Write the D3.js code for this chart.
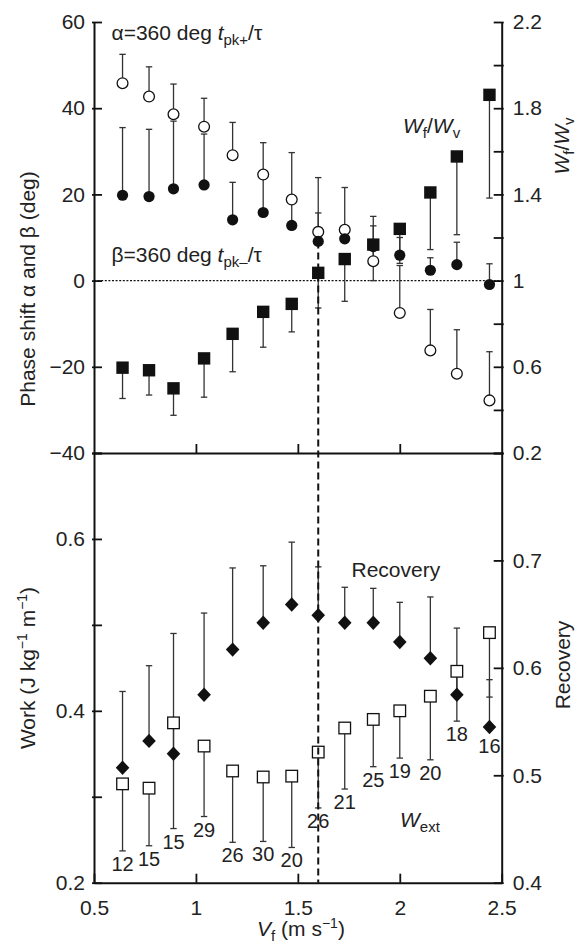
<!DOCTYPE html>
<html><head><meta charset="utf-8">
<script src="https://cdn.jsdelivr.net/npm/d3@7"></script>
<style>
body{margin:0;background:#fff}
text{font-family:"Liberation Sans",Arial,Helvetica,sans-serif;fill:#222}
</style>
</head><body><svg id="c" width="584" height="947"></svg>
<script>
// ---------- data ----------
const speeds     = [0.64, 0.77, 0.89, 1.04, 1.18, 1.33, 1.47, 1.60, 1.73, 1.87, 2.00, 2.15, 2.28, 2.44];
const alpha      = [45.8, 42.7, 38.6, 35.7, 29.1, 24.6, 18.8, 11.3, 11.8, 4.5, -7.5, -16.2, -21.6, -27.8];
const alphaHi    = [52.5, 49.6, 45.6, 42.3, 36.7, 32.0, 29.7, 23.9, 21.6, 12.7, 3.5, -6.7, -11.4, -16.5];
const beta       = [19.8, 19.5, 21.3, 22.2, 14.1, 15.8, 12.8, 9.1, 9.7, 7.9, 5.9, 2.4, 3.7, -0.9];
const betaHi     = [35.5, 35.1, 37.0, 34.0, 22.8, 24.0, 18.0, 15.7, 11.5, 14.9, 10.0, 5.3, 8.9, 3.9];
const wfwv       = [0.596, 0.584, 0.500, 0.639, 0.753, 0.855, 0.892, 1.036, 1.100, 1.167, 1.240, 1.409, 1.576, 1.862];
const wfwvLo     = [0.453, 0.469, 0.375, 0.459, 0.577, 0.691, 0.762, 0.873, 0.904, 1.000, 1.080, 1.144, 1.213, 1.383];
const workExt    = [0.315, 0.310, 0.386, 0.359, 0.330, 0.323, 0.324, 0.352, 0.380, 0.390, 0.400, 0.417, 0.446, 0.491];
const workExtLo  = [0.237, 0.243, 0.263, 0.277, 0.247, 0.248, 0.241, 0.287, 0.309, 0.335, 0.345, 0.343, 0.388, 0.416];
const recovery   = [0.507, 0.532, 0.520, 0.575, 0.617, 0.642, 0.659, 0.649, 0.642, 0.642, 0.624, 0.609, 0.575, 0.545];
const recoveryHi = [0.578, 0.602, 0.632, 0.651, 0.693, 0.695, 0.717, 0.694, 0.675, 0.674, 0.661, 0.666, 0.637, 0.589];
const nLabels    = ["12","15","15","29","26","30","20","26","21","25","19","20","18","16"];
const markerSpeed = 1.6;

const phaseTicks = [-40, -20, 0, 20, 40, 60];
const ratioTicks = [0.2, 0.4, 0.6, 0.8, 1.0, 1.2, 1.4, 1.6, 1.8, 2.0, 2.2];
const workTicks  = [0.2, 0.3, 0.4, 0.5, 0.6, 0.7];
const recTicks   = [0.4, 0.5, 0.6, 0.7, 0.8];
const speedTicks = [0.5, 1, 1.5, 2, 2.5];
const innerSpeedTicks = [1, 1.5, 2];

// ---------- scales ----------
const L = 94, R = 501.7, T = 22, M = 453, B = 882.7;
const x     = d3.scaleLinear().domain([0.5, 2.5]).range([L, R]);
const yPh   = d3.scaleLinear().domain([-40, 60]).range([M, T]);
const yRat  = d3.scaleLinear().domain([0.2, 2.2]).range([M, T]);
const yWork = d3.scaleLinear().domain([0.2, 0.7]).range([B, M]);
const yRec  = d3.scaleLinear().domain([0.4, 0.8]).range([B, M]);

const svg = d3.select("#c");
const FS = 21;
const INK = "#111";

function styleAxis(g, outX, outY) {
  g.select(".domain").attr("stroke", INK).attr("stroke-width", 2);
  g.selectAll(".tick line").attr("stroke", INK).attr("stroke-width", 1.8);
  if (outX !== undefined) g.selectAll(".tick line").attr("x1", outX);
  if (outY !== undefined) g.selectAll(".tick line").attr("y1", outY);
  g.selectAll("text").attr("font-size", FS).attr("font-family", '"Liberation Sans",Arial,sans-serif').attr("fill", "#222");
}
const minus = v => (v < 0 ? "\u2212" + Math.abs(v) : String(v));

// left axes
svg.append("g").attr("transform", `translate(${L},0)`)
  .call(d3.axisLeft(yPh).tickValues(phaseTicks).tickFormat(minus).tickSizeInner(-8).tickSizeOuter(0).tickPadding(9))
  .call(g => styleAxis(g, -2));
svg.append("g").attr("transform", `translate(${L},0)`)
  .call(d3.axisLeft(yWork).tickValues(workTicks)
    .tickFormat(d => ([0.2, 0.4, 0.6].some(v => Math.abs(v - d) < 1e-6) ? d.toFixed(1) : ""))
    .tickSizeInner(-8).tickSizeOuter(0).tickPadding(9))
  .call(g => styleAxis(g, -2));
// right axes
svg.append("g").attr("transform", `translate(${R},0)`)
  .call(d3.axisRight(yRat).tickValues(ratioTicks)
    .tickFormat(d => { const k = Math.round(d * 10); return k % 4 === 2 ? (k === 10 ? "1" : d.toFixed(1)) : ""; })
    .tickSizeInner(-8).tickSizeOuter(0).tickPadding(11))
  .call(g => styleAxis(g, 2));
svg.append("g").attr("transform", `translate(${R},0)`)
  .call(d3.axisRight(yRec).tickValues(recTicks)
    .tickFormat(d => (d > 0.75 ? "" : d.toFixed(1)))
    .tickSizeInner(-8).tickSizeOuter(0).tickPadding(11))
  .call(g => styleAxis(g, 2));
// x axes
svg.append("g").attr("transform", `translate(0,${M})`)
  .call(d3.axisBottom(x).tickValues(innerSpeedTicks).tickFormat("").tickSizeInner(-9).tickSizeOuter(0))
  .call(g => styleAxis(g));
svg.append("g").attr("transform", `translate(0,${B})`)
  .call(d3.axisBottom(x).tickValues(speedTicks).tickFormat(d => String(d)).tickSizeInner(-9).tickSizeOuter(0).tickPadding(17))
  .call(g => styleAxis(g));

// zero line (dotted)
svg.append("line").attr("x1", x(0.5)).attr("x2", x(2.5)).attr("y1", yPh(0)).attr("y2", yPh(0))
  .attr("stroke", INK).attr("stroke-width", 1.4).attr("stroke-dasharray", "2,1.6");

// ---------- error bars ----------
const EB = "#333", CAP = 3.2;
function errBars(vals, ends, yS) {
  const g = svg.append("g").attr("stroke", EB).attr("stroke-width", 1.3);
  speeds.forEach((s, i) => {
    g.append("line").attr("x1", x(s)).attr("x2", x(s)).attr("y1", yS(vals[i])).attr("y2", yS(ends[i]));
    g.append("line").attr("x1", x(s) - CAP).attr("x2", x(s) + CAP).attr("y1", yS(ends[i])).attr("y2", yS(ends[i]));
  });
}
errBars(alpha, alphaHi, yPh);
errBars(beta, betaHi, yPh);
errBars(wfwv, wfwvLo, yRat);
errBars(workExt, workExtLo, yWork);
errBars(recovery, recoveryHi, yRec);

// ---------- markers top ----------
svg.append("g").selectAll("circle").data(speeds).join("circle")
  .attr("cx", d => x(d)).attr("cy", (d, i) => yPh(alpha[i])).attr("r", 5.4)
  .attr("fill", "#fff").attr("stroke", INK).attr("stroke-width", 1.3);
svg.append("g").selectAll("rect").data(speeds).join("rect")
  .attr("x", d => x(d) - 6.2).attr("y", (d, i) => yRat(wfwv[i]) - 6.2).attr("width", 12.4).attr("height", 12.4)
  .attr("fill", INK);
svg.append("g").selectAll("circle").data(speeds).join("circle")
  .attr("cx", d => x(d)).attr("cy", (d, i) => yPh(beta[i])).attr("r", 5.6)
  .attr("fill", INK);

// ---------- markers bottom ----------
svg.append("g").selectAll("rect").data(speeds).join("rect")
  .attr("x", d => x(d) - 5.8).attr("y", (d, i) => yWork(workExt[i]) - 5.8).attr("width", 11.6).attr("height", 11.6)
  .attr("fill", "#fff").attr("stroke", INK).attr("stroke-width", 1.3);
svg.append("g").selectAll("path").data(speeds).join("path")
  .attr("transform", (d, i) => `translate(${x(d)},${yRec(recovery[i])})`)
  .attr("d", "M0,-7.2L6.8,0L0,7.2L-6.8,0Z").attr("fill", INK);

// ---------- vertical dashed marker ----------
const mi = speeds.indexOf(markerSpeed);
svg.append("line").attr("x1", x(markerSpeed)).attr("x2", x(markerSpeed))
  .attr("y1", yPh(beta[mi])).attr("y2", B)
  .attr("stroke", INK).attr("stroke-width", 2).attr("stroke-dasharray", "7,4");

// ---------- sample size labels ----------
svg.append("g").selectAll("text").data(nLabels).join("text")
  .attr("x", (d, i) => x(speeds[i]))
  .attr("y", (d, i) => Math.max(yWork(workExtLo[i]), yRec(recovery[i]) + 6) + 20)
  .attr("text-anchor", "middle").attr("font-size", 20).text(d => d);

// ---------- annotations ----------
function rich(parent, xx, yy, parts, opts = {}) {
  const t = parent.append("text").attr("x", xx).attr("y", yy).attr("font-size", FS);
  if (opts.anchor) t.attr("text-anchor", opts.anchor);
  if (opts.transform) t.attr("transform", opts.transform);
  parts.forEach(p => {
    const s = t.append("tspan").text(p.t);
    if (p.i) s.attr("font-style", "italic");
    if (p.sub) s.attr("font-size", 15).attr("dy", 5);
    if (p.sup) s.attr("font-size", 14).attr("dy", -8);
    if (p.back) s.attr("dy", p.back);
  });
  return t;
}
rich(svg, 111.5, 40, [{t: "\u03b1=360 deg "}, {t: "t", i: 1}, {t: "pk+", sub: 1}, {t: "/\u03c4", back: -5}]);
rich(svg, 111.5, 262, [{t: "\u03b2=360 deg "}, {t: "t", i: 1}, {t: "pk\u2013", sub: 1}, {t: "/\u03c4", back: -5}]);
rich(svg, 403, 132.5, [{t: "W", i: 1}, {t: "f", sub: 1}, {t: "/", back: -5}, {t: "W", i: 1}, {t: "v", sub: 1}]);
rich(svg, 351.5, 576.5, [{t: "Recovery"}]);
rich(svg, 400, 827, [{t: "W", i: 1}, {t: "ext", sub: 1}]);

// axis titles
rich(svg, 0, 0, [{t: "Phase shift \u03b1 and \u03b2 (deg)"}], {anchor: "middle", transform: "translate(35,289) rotate(-90)"});
rich(svg, 0, 0, [{t: "Work (J kg"}, {t: "\u22121", sup: 1}, {t: " m", back: 8}, {t: "\u22121", sup: 1}, {t: ")", back: 8}],
  {anchor: "middle", transform: "translate(35,668) rotate(-90)"});
rich(svg, 0, 0, [{t: "W", i: 1}, {t: "f", sub: 1}, {t: "/", back: -5}, {t: "W", i: 1}, {t: "v", sub: 1}],
  {anchor: "middle", transform: "translate(569,146) rotate(-90)"});
rich(svg, 0, 0, [{t: "Recovery"}], {anchor: "middle", transform: "translate(570,665) rotate(-90)"});
rich(svg, 301, 936, [{t: "V", i: 1}, {t: "f", sub: 1}, {t: " (m s", back: -5}, {t: "\u22121", sup: 1}, {t: ")", back: 8}], {anchor: "middle"});
</script>
</body></html>
